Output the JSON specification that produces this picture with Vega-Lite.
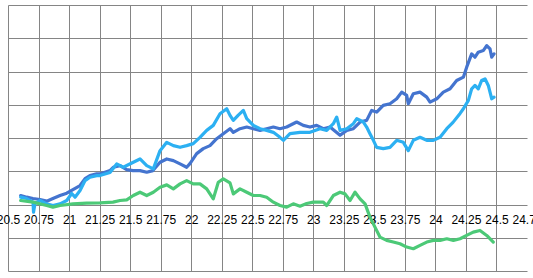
{
  "$schema": "https://vega.github.io/schema/vega-lite/v6.json",
  "width": 519,
  "height": 266,
  "autosize": {"type": "none"},
  "padding": {"left": 8, "top": 5, "right": 6, "bottom": 7},
  "background": "white",
  "config": {"view": {"stroke": null}},
  "data": {"values": [
    {"s":"A","x":20.604,"y":2.7},{"s":"A","x":20.653,"y":2.2},{"s":"A","x":20.705,"y":1.8},{"s":"A","x":20.762,"y":1.5},{"s":"A","x":20.817,"y":1.0},{"s":"A","x":20.868,"y":1.8},{"s":"A","x":20.926,"y":2.7},{"s":"A","x":20.981,"y":3.4},{"s":"A","x":21.032,"y":4.5},{"s":"A","x":21.09,"y":5.7},{"s":"A","x":21.131,"y":7.8},{"s":"A","x":21.171,"y":8.7},{"s":"A","x":21.226,"y":9.2},{"s":"A","x":21.253,"y":9.2},{"s":"A","x":21.335,"y":10.2},{"s":"A","x":21.362,"y":11.2},{"s":"A","x":21.417,"y":11.7},{"s":"A","x":21.472,"y":10.5},{"s":"A","x":21.524,"y":10.2},{"s":"A","x":21.581,"y":10.2},{"s":"A","x":21.636,"y":9.7},{"s":"A","x":21.687,"y":10.2},{"s":"A","x":21.745,"y":12.7},{"s":"A","x":21.8,"y":13.7},{"s":"A","x":21.854,"y":13.2},{"s":"A","x":21.909,"y":12.2},{"s":"A","x":21.963,"y":11.2},{"s":"A","x":21.99,"y":12.3},{"s":"A","x":22.045,"y":15.3},{"s":"A","x":22.099,"y":16.8},{"s":"A","x":22.154,"y":17.7},{"s":"A","x":22.209,"y":19.8},{"s":"A","x":22.263,"y":21.3},{"s":"A","x":22.318,"y":22.8},{"s":"A","x":22.345,"y":21.7},{"s":"A","x":22.4,"y":22.8},{"s":"A","x":22.455,"y":23.3},{"s":"A","x":22.509,"y":22.8},{"s":"A","x":22.564,"y":22.3},{"s":"A","x":22.618,"y":22.8},{"s":"A","x":22.673,"y":23.3},{"s":"A","x":22.727,"y":22.8},{"s":"A","x":22.782,"y":23.3},{"s":"A","x":22.864,"y":24.8},{"s":"A","x":22.918,"y":23.8},{"s":"A","x":22.973,"y":23.3},{"s":"A","x":23.028,"y":23.8},{"s":"A","x":23.082,"y":22.8},{"s":"A","x":23.137,"y":23.3},{"s":"A","x":23.219,"y":20.8},{"s":"A","x":23.274,"y":22.3},{"s":"A","x":23.328,"y":22.8},{"s":"A","x":23.383,"y":24.8},{"s":"A","x":23.437,"y":25.3},{"s":"A","x":23.478,"y":28.3},{"s":"A","x":23.519,"y":27.8},{"s":"A","x":23.573,"y":29.8},{"s":"A","x":23.628,"y":30.3},{"s":"A","x":23.683,"y":31.8},{"s":"A","x":23.724,"y":33.8},{"s":"A","x":23.765,"y":32.8},{"s":"A","x":23.778,"y":30.3},{"s":"A","x":23.819,"y":33.3},{"s":"A","x":23.874,"y":33.8},{"s":"A","x":23.929,"y":32.3},{"s":"A","x":23.956,"y":30.8},{"s":"A","x":24.011,"y":31.8},{"s":"A","x":24.065,"y":33.8},{"s":"A","x":24.12,"y":34.8},{"s":"A","x":24.174,"y":37.3},{"s":"A","x":24.229,"y":38.3},{"s":"A","x":24.256,"y":41.3},{"s":"A","x":24.297,"y":45.3},{"s":"A","x":24.324,"y":44.3},{"s":"A","x":24.351,"y":45.8},{"s":"A","x":24.392,"y":46.3},{"s":"A","x":24.42,"y":47.8},{"s":"A","x":24.447,"y":46.8},{"s":"A","x":24.461,"y":44.3},{"s":"A","x":24.48,"y":45.3},
    {"s":"B","x":20.604,"y":2.2},{"s":"B","x":20.653,"y":1.8},{"s":"B","x":20.705,"y":0.7},{"s":"B","x":20.709,"y":-2.3},{"s":"B","x":20.721,"y":0.3},{"s":"B","x":20.762,"y":1.2},{"s":"B","x":20.817,"y":0.2},{"s":"B","x":20.868,"y":-0.3},{"s":"B","x":20.926,"y":0.2},{"s":"B","x":20.981,"y":1.2},{"s":"B","x":21.022,"y":3.3},{"s":"B","x":21.049,"y":2.2},{"s":"B","x":21.09,"y":4.2},{"s":"B","x":21.131,"y":7.2},{"s":"B","x":21.171,"y":8.2},{"s":"B","x":21.226,"y":8.7},{"s":"B","x":21.253,"y":8.7},{"s":"B","x":21.335,"y":9.6},{"s":"B","x":21.39,"y":12.2},{"s":"B","x":21.444,"y":11.2},{"s":"B","x":21.526,"y":12.7},{"s":"B","x":21.581,"y":13.7},{"s":"B","x":21.636,"y":11.7},{"s":"B","x":21.69,"y":10.7},{"s":"B","x":21.745,"y":16.2},{"s":"B","x":21.8,"y":18.7},{"s":"B","x":21.854,"y":17.7},{"s":"B","x":21.909,"y":17.2},{"s":"B","x":21.963,"y":17.7},{"s":"B","x":22.017,"y":18.3},{"s":"B","x":22.072,"y":20.2},{"s":"B","x":22.127,"y":22.3},{"s":"B","x":22.181,"y":23.8},{"s":"B","x":22.236,"y":27.3},{"s":"B","x":22.291,"y":28.8},{"s":"B","x":22.318,"y":26.8},{"s":"B","x":22.345,"y":25.3},{"s":"B","x":22.384,"y":26.8},{"s":"B","x":22.427,"y":28.3},{"s":"B","x":22.455,"y":25.8},{"s":"B","x":22.509,"y":23.8},{"s":"B","x":22.564,"y":22.8},{"s":"B","x":22.618,"y":22.3},{"s":"B","x":22.673,"y":21.7},{"s":"B","x":22.727,"y":20.2},{"s":"B","x":22.755,"y":19.3},{"s":"B","x":22.809,"y":21.3},{"s":"B","x":22.891,"y":21.7},{"s":"B","x":22.973,"y":21.7},{"s":"B","x":23.055,"y":22.8},{"s":"B","x":23.11,"y":22.3},{"s":"B","x":23.164,"y":24.3},{"s":"B","x":23.192,"y":26.3},{"s":"B","x":23.219,"y":22.3},{"s":"B","x":23.274,"y":22.8},{"s":"B","x":23.328,"y":24.3},{"s":"B","x":23.356,"y":25.8},{"s":"B","x":23.41,"y":24.8},{"s":"B","x":23.437,"y":23.3},{"s":"B","x":23.464,"y":21.3},{"s":"B","x":23.492,"y":19.3},{"s":"B","x":23.519,"y":17.2},{"s":"B","x":23.573,"y":16.8},{"s":"B","x":23.628,"y":17.2},{"s":"B","x":23.683,"y":19.3},{"s":"B","x":23.737,"y":18.7},{"s":"B","x":23.778,"y":16.2},{"s":"B","x":23.819,"y":19.3},{"s":"B","x":23.874,"y":20.2},{"s":"B","x":23.929,"y":19.3},{"s":"B","x":23.983,"y":19.3},{"s":"B","x":24.038,"y":20.2},{"s":"B","x":24.093,"y":22.8},{"s":"B","x":24.144,"y":24.7},{"s":"B","x":24.202,"y":27.4},{"s":"B","x":24.229,"y":28.8},{"s":"B","x":24.27,"y":31.3},{"s":"B","x":24.297,"y":34.8},{"s":"B","x":24.324,"y":35.8},{"s":"B","x":24.351,"y":34.8},{"s":"B","x":24.379,"y":37.3},{"s":"B","x":24.406,"y":37.8},{"s":"B","x":24.433,"y":35.8},{"s":"B","x":24.461,"y":31.8},{"s":"B","x":24.48,"y":32.3},
    {"s":"C","x":20.604,"y":1.2},{"s":"C","x":20.705,"y":0.7},{"s":"C","x":20.817,"y":-0.3},{"s":"C","x":20.868,"y":-0.8},{"s":"C","x":20.926,"y":-0.3},{"s":"C","x":21.032,"y":0.2},{"s":"C","x":21.144,"y":0.4},{"s":"C","x":21.253,"y":0.5},{"s":"C","x":21.36,"y":0.7},{"s":"C","x":21.417,"y":1.2},{"s":"C","x":21.472,"y":1.4},{"s":"C","x":21.526,"y":2.7},{"s":"C","x":21.581,"y":3.7},{"s":"C","x":21.636,"y":2.7},{"s":"C","x":21.69,"y":3.7},{"s":"C","x":21.745,"y":5.2},{"s":"C","x":21.8,"y":5.9},{"s":"C","x":21.854,"y":4.7},{"s":"C","x":21.909,"y":6.2},{"s":"C","x":21.963,"y":7.2},{"s":"C","x":22.017,"y":6.2},{"s":"C","x":22.072,"y":6.2},{"s":"C","x":22.127,"y":4.7},{"s":"C","x":22.181,"y":1.7},{"s":"C","x":22.222,"y":6.7},{"s":"C","x":22.263,"y":7.7},{"s":"C","x":22.318,"y":6.5},{"s":"C","x":22.345,"y":3.2},{"s":"C","x":22.4,"y":4.7},{"s":"C","x":22.455,"y":3.7},{"s":"C","x":22.509,"y":2.7},{"s":"C","x":22.564,"y":2.7},{"s":"C","x":22.618,"y":2.2},{"s":"C","x":22.673,"y":0.7},{"s":"C","x":22.727,"y":-0.3},{"s":"C","x":22.782,"y":-0.8},{"s":"C","x":22.836,"y":0.2},{"s":"C","x":22.891,"y":-0.5},{"s":"C","x":22.946,"y":0.3},{"s":"C","x":23.0,"y":0.7},{"s":"C","x":23.082,"y":0.7},{"s":"C","x":23.11,"y":-0.3},{"s":"C","x":23.164,"y":2.7},{"s":"C","x":23.219,"y":3.7},{"s":"C","x":23.26,"y":3.2},{"s":"C","x":23.301,"y":1.2},{"s":"C","x":23.342,"y":3.7},{"s":"C","x":23.383,"y":1.7},{"s":"C","x":23.424,"y":0.2},{"s":"C","x":23.464,"y":-3.8},{"s":"C","x":23.505,"y":-6.8},{"s":"C","x":23.546,"y":-9.8},{"s":"C","x":23.601,"y":-10.8},{"s":"C","x":23.655,"y":-11.3},{"s":"C","x":23.71,"y":-11.8},{"s":"C","x":23.765,"y":-12.8},{"s":"C","x":23.819,"y":-13.3},{"s":"C","x":23.874,"y":-12.3},{"s":"C","x":23.929,"y":-11.3},{"s":"C","x":23.983,"y":-10.8},{"s":"C","x":24.038,"y":-10.8},{"s":"C","x":24.093,"y":-10.3},{"s":"C","x":24.147,"y":-10.8},{"s":"C","x":24.202,"y":-10.3},{"s":"C","x":24.256,"y":-9.3},{"s":"C","x":24.31,"y":-8.3},{"s":"C","x":24.365,"y":-7.8},{"s":"C","x":24.42,"y":-9.3},{"s":"C","x":24.474,"y":-11.3}
  ]},
  "mark": {"type": "line", "strokeWidth": 3.2, "strokeJoin": "round", "strokeCap": "round"},
  "encoding": {
    "x": {
      "field": "x", "type": "quantitative",
      "scale": {"domain": [20.5, 24.75], "nice": false, "zero": false},
      "axis": {
        "title": null, "orient": "bottom", "offset": -67,
        "values": [20.5, 20.75, 21, 21.25, 21.5, 21.75, 22, 22.25, 22.5, 22.75, 23, 23.25, 23.5, 23.75, 24, 24.25, 24.5, 24.75],
        "format": ".4~g", "domain": false, "ticks": false,
        "labelFont": "Liberation Sans", "labelFontSize": 12, "labelColor": "#000000",
        "labelPadding": 10, "labelFlush": false, "labelOverlap": false, "labelBound": false,
        "grid": true, "gridColor": "#858585", "gridWidth": 1,
        "gridOpacity": {"condition": {"test": "datum.value > 24.7", "value": 0}, "value": 1}
      }
    },
    "y": {
      "field": "y", "type": "quantitative",
      "scale": {"domain": [-20, 60], "nice": false, "zero": false},
      "axis": {
        "title": null, "labels": false, "ticks": false, "domain": false,
        "values": [-20, -10, 0, 10, 20, 30, 40, 50, 60],
        "grid": true, "gridColor": "#858585", "gridWidth": 1
      }
    },
    "color": {
      "field": "s", "type": "nominal", "legend": null,
      "scale": {"domain": ["A", "B", "C"], "range": ["#4474CF", "#2CB0F2", "#4CC977"]}
    }
  }
}
